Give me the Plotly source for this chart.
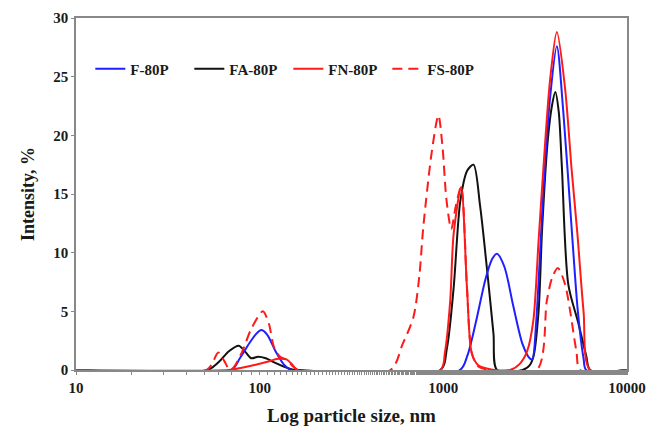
import plotly.graph_objects as go

# ---- data (particle size in nm, intensity in %) ----
f80_x = [10, 70, 78, 88, 96, 102, 110, 122, 135, 148,
         1230, 1350, 1500, 1700, 1850, 1960, 2150, 2400, 2700, 2950, 3050,
         3200, 3500, 3800, 4150, 4500, 5000, 5400, 5800, 6000, 10000]
f80_y = [0, 0, 1.0, 2.3, 3.1, 3.4, 3.0, 1.6, 0.5, 0,
         0, 1.2, 4.0, 7.8, 9.5, 9.9, 8.8, 5.5, 2.2, 1.0, 0.9,
         4.0, 15.0, 23.0, 27.6, 22.0, 12.0, 5.0, 1.0, 0, 0]

fa80_x = [10, 52, 60, 68, 77, 84, 90, 98, 108, 120, 135, 150, 163,
          964, 1047, 1138, 1237, 1350, 1460, 1585, 1725, 1875, 1960,
          2700, 2950, 3100, 3300, 3450, 3700, 3900, 4070, 4250, 4420,
          4790, 5430, 6000, 6300, 10000]
fa80_y = [0, 0, 0.7, 1.6, 2.07, 1.5, 1.0, 1.13, 1.0, 0.65, 0.3, 0.05, 0,
          0, 1.9, 7.0, 14.4, 17.0, 17.5, 14.0, 8.75, 3.1, 0,
          0, 0.4, 1.2, 5.0, 12.0, 19.5, 22.5, 23.7, 22.0, 17.3,
          7.3, 4.0, 1.2, 0, 0]

fn80_x = [10, 68, 80, 95, 110, 126, 140, 150, 160,
          964, 1020, 1090, 1138, 1250, 1345, 1430, 1550, 1750, 1900,
          2310, 2600, 2860, 3090, 3300, 3510, 3800, 4150, 4600, 5000,
          5370, 5800, 6300, 10000]
fn80_y = [0, 0, 0.2, 0.45, 0.7, 0.95, 0.9, 0.5, 0,
          0, 1.5, 5.9, 11.6, 15.6, 7.0, 1.4, 0.4, 0.1, 0,
          0, 0.5, 1.6, 4.2, 11.0, 17.3, 24.5, 28.8, 24.0, 17.0,
          11.6, 5.0, 0, 0]

fs80_x = [10, 51.5, 59.6, 64, 68.8, 72, 80, 90, 104, 112, 120, 130, 140, 152, 163,
          515, 600, 687, 740, 777, 867, 940, 990, 1040, 1105, 1170, 1250,
          1345, 1430, 1550, 1800,
          3230, 3660, 3900, 4200, 4600, 5300, 5560, 10000]
fs80_y = [0, 0, 1.5, 0.8, 0, 0.2, 1.5, 3.5, 5.0, 4.0, 1.9, 1.1, 0.9, 0.3, 0,
          0, 2.2, 4.5, 8.0, 12.1, 18.7, 21.7, 19.0, 14.5, 12.0, 14.0, 15.6,
          7.0, 1.4, 0.3, 0,
          0, 5.9, 7.8, 8.7, 7.3, 1.6, 0, 0]

series_names = ["F-80P", "FA-80P", "FN-80P", "FS-80P"]
series_colors = ["#1f1fff", "#111111", "#ff1a1a", "#ff1a1a"]
series_dash = ["solid", "solid", "solid", "10px,6px"]
series_x = [f80_x, fa80_x, fn80_x, fs80_x]
series_y = [f80_y, fa80_y, fn80_y, fs80_y]
draw_order = [1, 0, 3, 2]  # FA, F, FS, FN (red solid on top)

x_ticks = [10, 100, 1000, 10000]
x_tick_text = ["10", "100", "1000", "10000"]
y_ticks = [0, 5, 10, 15, 20, 25, 30]

font_family = "Liberation Serif, Times New Roman, serif"

fig = go.Figure()
for i in draw_order:
    fig.add_trace(go.Scatter(
        x=series_x[i], y=series_y[i], name=series_names[i], mode="lines",
        legendrank=i + 1,
        line=dict(color=series_colors[i], width=2, dash=series_dash[i],
                  shape="spline", smoothing=0.8),
    ))

fig.update_layout(
    width=648, height=426,
    margin=dict(l=76, r=21, t=18, b=56, autoexpand=False),
    paper_bgcolor="white", plot_bgcolor="white",
    font=dict(family=font_family, color="#1a1a1a"),
    showlegend=True,
    legend=dict(
        orientation="h", x=0.026, y=0.855, xanchor="left", yanchor="middle",
        font=dict(family=font_family, size=15, weight="bold", color="#1a1a1a"),
        bgcolor="rgba(0,0,0,0)", borderwidth=0,
        entrywidthmode="pixels", entrywidth=54, tracegroupgap=0,
    ),
)

fig.update_xaxes(
    type="log", range=[1, 4], automargin=False,
    tickvals=x_ticks, ticktext=x_tick_text,
    ticks="outside", ticklen=3, tickcolor="#888888", tickwidth=1,
    minor=dict(ticks="outside", ticklen=3, tickcolor="#888888", showgrid=False),
    showline=True, linecolor="#888888", linewidth=1.5, mirror=True,
    showgrid=False, zeroline=False,
    tickfont=dict(family=font_family, size=15, weight="bold", color="#1a1a1a"),
    title=dict(text="Log particle size, nm", standoff=15,
               font=dict(family=font_family, size=19, weight="bold", color="#1a1a1a")),
)
fig.update_yaxes(
    range=[0, 30], tickvals=y_ticks, automargin=False,
    ticks="outside", ticklen=3, tickcolor="#888888", tickwidth=1,
    showline=True, linecolor="#888888", linewidth=1.5, mirror=True,
    showgrid=False, zeroline=False,
    tickfont=dict(family=font_family, size=15, weight="bold", color="#1a1a1a"),
    title=dict(text="Intensity, %", standoff=14,
               font=dict(family=font_family, size=18, weight="bold", color="#1a1a1a")),
)

fig.write_html("out.html", config={"displayModeBar": False},
               post_script="document.body.style.margin='0';")
